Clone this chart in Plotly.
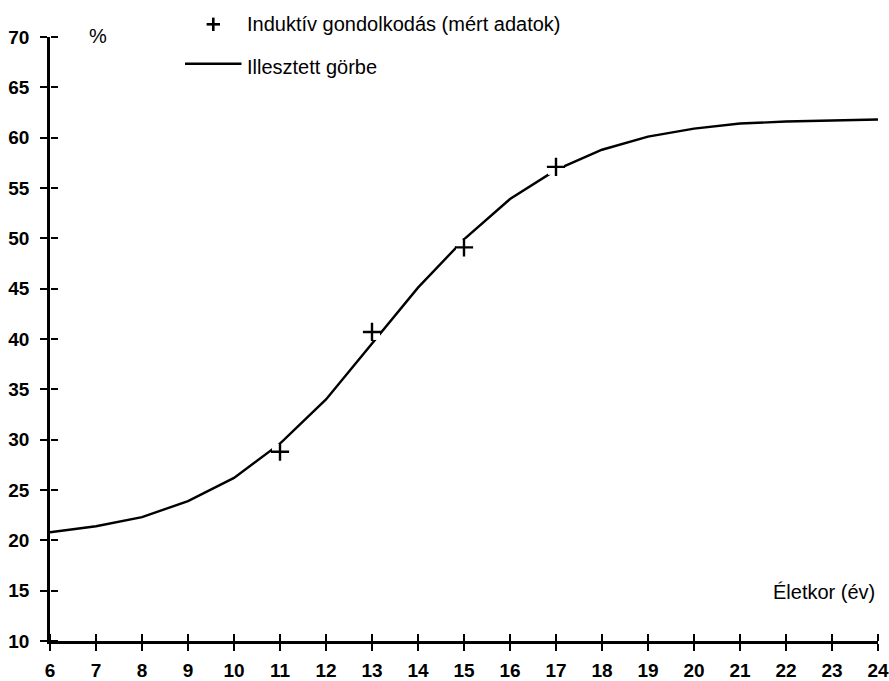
import plotly.graph_objects as go

# Data
age_curve = [6, 7, 8, 9, 10, 11, 12, 13, 14, 15, 16, 17, 18, 19, 20, 21, 22, 23, 24]
fitted = [20.8, 21.4, 22.3, 23.9, 26.2, 29.6, 34.0, 39.6, 45.1, 49.9, 53.9, 56.8,
          58.8, 60.1, 60.9, 61.4, 61.6, 61.7, 61.8]
age_measured = [11, 13, 15, 17]
measured = [28.8, 40.7, 49.1, 57.1]
x_ticks = list(range(6, 25))
y_ticks = list(range(10, 75, 5))

W, H = 889, 681
ML, MR, MT, MB = 50, 11, 37, 40
PW = W - ML - MR
PH = H - MT - MB


def px(x):
    return (x - ML) / PW


def py(y):
    return (H - MB - y) / PH


FONT = "Liberation Sans, Arial, sans-serif"

fig = go.Figure()
fig.add_trace(go.Scatter(x=age_curve, y=fitted, mode="lines",
                         line=dict(color="black", width=2.4), name="Illesztett görbe",
                         showlegend=False, hoverinfo="skip"))
fig.add_trace(go.Scatter(x=age_measured, y=measured, mode="markers",
                         marker=dict(symbol="square", size=16, color="white", line=dict(width=0)),
                         showlegend=False, hoverinfo="skip"))
fig.add_trace(go.Scatter(x=age_measured, y=measured, mode="markers",
                         marker=dict(symbol="cross-thin", size=13, color="black",
                                     line=dict(color="black", width=2.4)),
                         name="Induktív gondolkodás (mért adatok)", showlegend=False))

tickfont = dict(family=FONT, size=19, color="black", weight="bold")

fig.update_layout(
    width=W, height=H,
    margin=dict(l=ML, r=MR, t=MT, b=MB, autoexpand=False),
    paper_bgcolor="white", plot_bgcolor="white",
    xaxis=dict(range=[6, 24], tickvals=x_ticks, ticktext=[str(v) for v in x_ticks],
               showline=True, linecolor="black", linewidth=2.5, ticks="outside",
               ticklen=7, tickwidth=2, tickcolor="black", showgrid=False, zeroline=False,
               tickfont=tickfont, ticklabelstandoff=3, automargin=False),
    yaxis=dict(range=[10, 70], tickvals=y_ticks, ticktext=[str(v) for v in y_ticks],
               showline=True, linecolor="black", linewidth=2.5, ticks="outside",
               ticklen=7, tickwidth=2, tickcolor="black", showgrid=False, zeroline=False,
               tickfont=tickfont, ticklabelstandoff=7, automargin=False),
    # overlay axes sitting on the main axis lines, giving the inward half of each tick
    xaxis2=dict(range=[6, 24], tickmode="array", tickvals=x_ticks, overlaying="x",
                anchor="free", position=0, side="top", ticks="outside", ticklen=7,
                tickwidth=2, tickcolor="black", showticklabels=False, showline=False,
                showgrid=False, zeroline=False, automargin=False),
    yaxis2=dict(range=[10, 70], tickmode="array", tickvals=y_ticks, overlaying="y",
                anchor="free", position=0, side="right", ticks="outside", ticklen=7,
                tickwidth=2, tickcolor="black", showticklabels=False, showline=False,
                showgrid=False, zeroline=False, automargin=False),
    showlegend=False,
)

# invisible trace so the overlay axes are drawn
fig.add_trace(go.Scatter(x=[6], y=[10], xaxis="x2", yaxis="y2", mode="markers",
                         marker=dict(opacity=0), showlegend=False, hoverinfo="skip"))

txtfont = dict(family=FONT, size=20, color="black")
annotations = [
    dict(text="Induktív gondolkodás (mért adatok)", x=px(245), y=py(24), xref="paper", yref="paper",
         xanchor="left", yanchor="middle", showarrow=False, font=txtfont),
    dict(text="Illesztett görbe", x=px(245), y=py(67), xref="paper", yref="paper",
         xanchor="left", yanchor="middle", showarrow=False, font=txtfont),
    dict(text="%", x=px(98), y=py(35.5), xref="paper", yref="paper",
         xanchor="center", yanchor="middle", showarrow=False, font=txtfont),
    dict(text="Életkor (év)", x=px(877), y=py(591.5), xref="paper", yref="paper",
         xanchor="right", yanchor="middle", showarrow=False, font=txtfont),
]
fig.update_layout(annotations=annotations)

shapes = [
    # legend line sample
    dict(type="line", xref="paper", yref="paper", x0=px(185), x1=px(241.5), y0=py(63.7), y1=py(63.7),
         line=dict(color="black", width=2.4)),
    # legend plus sample
    dict(type="line", xref="paper", yref="paper", x0=px(206.6), x1=px(220), y0=py(24.3), y1=py(24.3),
         line=dict(color="black", width=2.6)),
    dict(type="line", xref="paper", yref="paper", x0=px(213.3), x1=px(213.3), y0=py(17.6), y1=py(31),
         line=dict(color="black", width=2.6)),
]
fig.update_layout(shapes=shapes)

fig.write_html("out.html", config={"displayModeBar": False},
               post_script="document.body.style.margin='0';document.body.style.overflow='hidden';")
